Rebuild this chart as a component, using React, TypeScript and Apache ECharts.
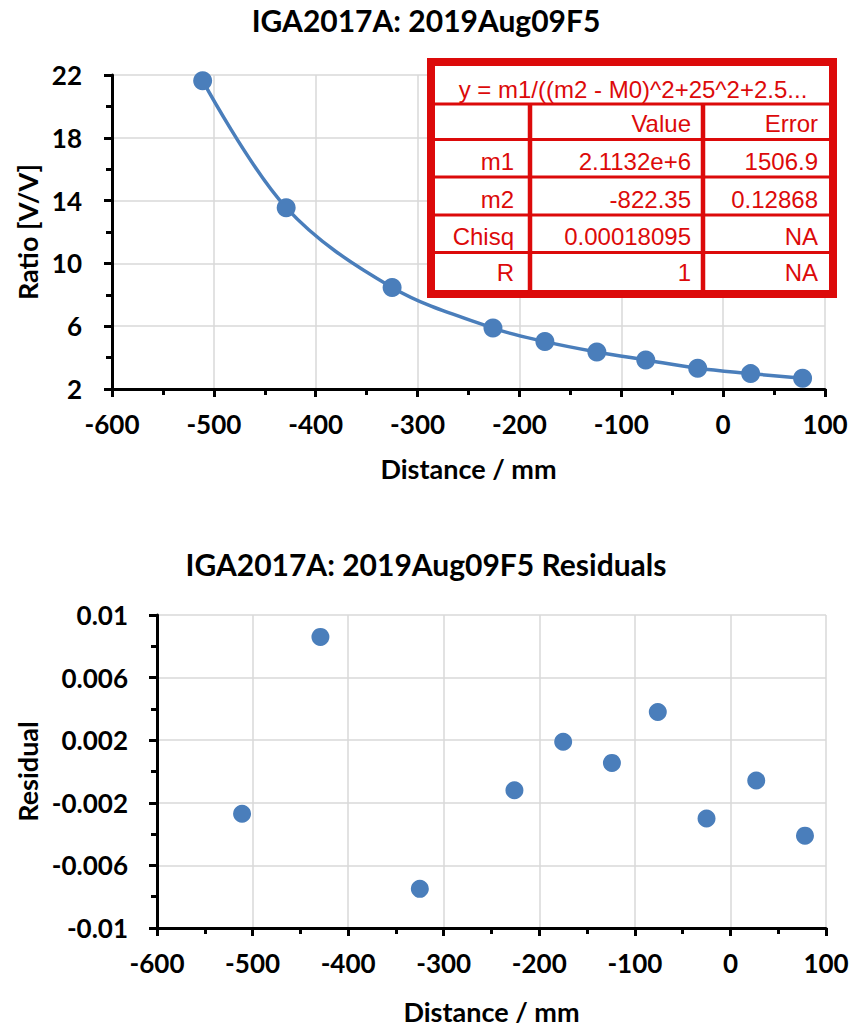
import React, { useEffect, useRef } from "react";
import * as echarts from "echarts";

// ---- data ----
const distanceMm = [-511, -429, -325, -226, -175, -124, -76, -25, 27, 78];
const ratioVV = [21.64, 13.55, 8.47, 5.88, 5.02, 4.36, 3.85, 3.32, 2.98, 2.68];
const residuals = [-0.0027, 0.0086, -0.0075, -0.0012, 0.0019, 0.00055, 0.0038, -0.003, -0.00057, -0.0041];

const topTitle = "IGA2017A: 2019Aug09F5";
const bottomTitle = "IGA2017A: 2019Aug09F5 Residuals";
const xAxisName = "Distance / mm";
const topYName = "Ratio [V/V]";
const bottomYName = "Residual";

// fit table
const fitFormula = "y = m1/((m2 - M0)^2+25^2+2.5...";
const tableHeader = ["", "Value", "Error"];
const tableParams = ["m1", "m2", "Chisq", "R"];
const tableValues = ["2.1132e+6", "-822.35", "0.00018095", "1"];
const tableErrors = ["1506.9", "0.12868", "NA", "NA"];

const BLUE = "#4a7ebb";
const RED = "#dc0a0a";
const FONT = "Lato";

function axisCommon() {
  return {
    axisLine: { onZero: false, lineStyle: { color: "#000", width: 3 } },
    axisTick: { show: true, inside: false, length: 8, lineStyle: { color: "#000", width: 3 } },
    minorTick: { show: true, splitNumber: 2, length: 6, lineStyle: { color: "#000", width: 3 } },
    splitLine: { show: true, lineStyle: { color: "#d9d9d9", width: 1.5 } },
    axisLabel: { color: "#000", fontFamily: FONT, fontWeight: "bold", fontSize: 26 },
    nameTextStyle: { color: "#000", fontFamily: FONT, fontWeight: "bold", fontSize: 27 },
    nameLocation: "middle" as const,
  };
}

export default function App() {
  const ref = useRef<HTMLDivElement>(null);
  useEffect(() => {
    if (!ref.current) return;
    const chart = echarts.init(ref.current, null, { renderer: "svg" });

    // table geometry
    const tX = 431, tY = 62, tW = 402, tH = 232;
    const rowLines = [104, 139.5, 177, 215, 252.5];
    const colLines = [530, 703];
    const rowTextY = [123.5, 161, 199, 236, 272.5];
    const colRight = [514, 691, 818];
    const textStyle = { fill: RED, fontFamily: "Liberation Sans", fontSize: 24 };
    const Z = 200;

    const tableEls: any[] = [
      { type: "rect", z: Z, shape: { x: tX, y: tY, width: tW, height: tH }, style: { fill: "#fff", stroke: RED, lineWidth: 8 } },
    ];
    rowLines.forEach((y) =>
      tableEls.push({ type: "line", z: Z + 1, shape: { x1: tX, y1: y, x2: tX + tW, y2: y }, style: { stroke: RED, lineWidth: 3 } })
    );
    colLines.forEach((x) =>
      tableEls.push({ type: "line", z: Z + 1, shape: { x1: x, y1: rowLines[0], x2: x, y2: tY + tH }, style: { stroke: RED, lineWidth: 4.5 } })
    );
    tableEls.push({
      type: "text", z: Z + 2,
      style: { ...textStyle, text: fitFormula, x: 633, y: 89, align: "center", verticalAlign: "middle" },
    });
    const rows = [tableHeader, ...tableParams.map((p, i) => [p, tableValues[i], tableErrors[i]])];
    rows.forEach((row, r) =>
      row.forEach((cell, c) => {
        if (!cell) return;
        tableEls.push({
          type: "text", z: Z + 2,
          style: { ...textStyle, text: cell, x: colRight[c], y: rowTextY[r], align: "right", verticalAlign: "middle" },
        });
      })
    );

    const titleStyle = { fill: "#000", fontFamily: FONT, fontWeight: "bold", fontSize: 30 };

    chart.setOption({
      animation: false,
      backgroundColor: "#fff",
      graphic: [
        { type: "text", z: Z, style: { ...titleStyle, text: topTitle, x: 426, y: 20, align: "center", verticalAlign: "middle" } },
        { type: "text", z: Z, style: { ...titleStyle, text: bottomTitle, x: 426, y: 564, align: "center", verticalAlign: "middle" } },
        ...tableEls,
      ],
      grid: [
        { left: 112, top: 75, width: 713, height: 314 },
        { left: 157, top: 615, width: 669, height: 313 },
      ],
      xAxis: [
        { ...axisCommon(), type: "value", gridIndex: 0, min: -600, max: 100, interval: 100, name: xAxisName, nameGap: 66, axisLabel: { ...axisCommon().axisLabel, margin: 22 } },
        { ...axisCommon(), type: "value", gridIndex: 1, min: -600, max: 100, interval: 100, name: xAxisName, nameGap: 70, axisLabel: { ...axisCommon().axisLabel, margin: 22 } },
      ],
      yAxis: [
        { ...axisCommon(), type: "value", gridIndex: 0, min: 2, max: 22, interval: 4, name: topYName, nameGap: 68, axisLabel: { ...axisCommon().axisLabel, margin: 30 } },
        {
          ...axisCommon(), type: "value", gridIndex: 1, min: -0.01, max: 0.01, interval: 0.004, name: bottomYName, nameGap: 116,
          axisLabel: { ...axisCommon().axisLabel, margin: 29, formatter: (v: number) => String(+v.toFixed(4)) },
        },
      ],
      series: [
        {
          type: "line", xAxisIndex: 0, yAxisIndex: 0,
          data: distanceMm.map((x, i) => [x, ratioVV[i]]),
          smooth: 0.35,
          symbol: "circle", symbolSize: 19, showSymbol: true,
          lineStyle: { color: BLUE, width: 3.5 }, itemStyle: { color: BLUE },
        },
        {
          type: "scatter", xAxisIndex: 1, yAxisIndex: 1,
          data: distanceMm.map((x, i) => [x, residuals[i]]),
          symbol: "circle", symbolSize: 18, itemStyle: { color: BLUE, opacity: 1 },
        },
      ],
    });
    return () => chart.dispose();
  }, []);
  return <div ref={ref} style={{ position: "absolute", left: 0, top: 0, width: 852, height: 1029 }} />;
}
